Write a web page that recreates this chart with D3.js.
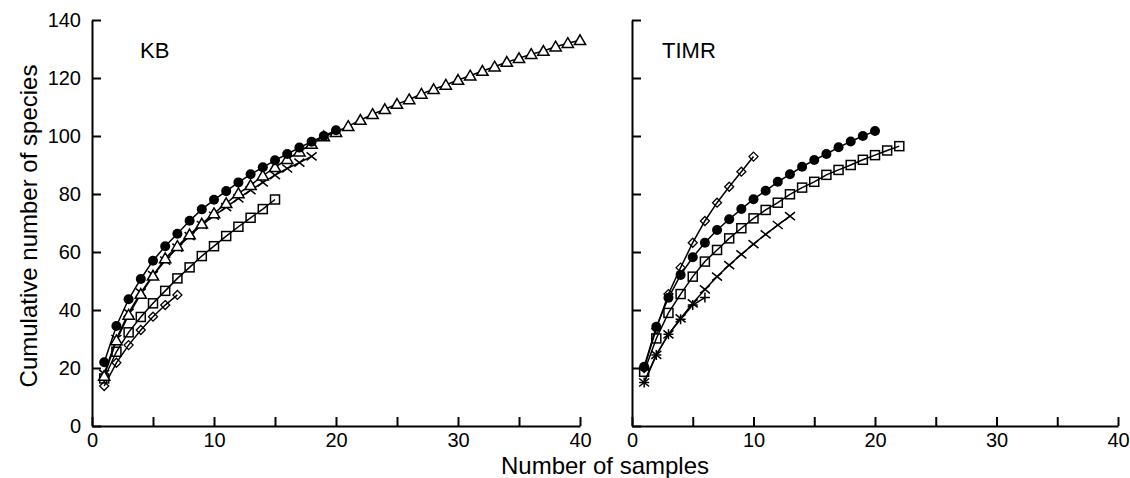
<!DOCTYPE html>
<html>
<head>
<meta charset="utf-8">
<script src="https://d3js.org/d3.v7.min.js"></script>
<style>
body{margin:0;background:#fff;}
text{font-family:"Liberation Sans Narrow","Liberation Sans",Arial,sans-serif;fill:#000;}
.axis path,.axis line{stroke:#000;stroke-width:2;}
.axis text{font-size:20px;}
</style>
</head>
<body>
<svg id="chart" width="1130" height="478"></svg>
<script>
// KB panel
const kbCircle = [22, 34.5, 43.7, 50.7, 57, 62, 66.3, 70.8, 74.7, 78, 81, 84, 86.8, 89.2, 91.6, 93.8, 96, 98, 100, 102];
const kbTriangle = [17.2, 29.5, 38.3, 45.5, 51.8, 57.8, 62, 66, 69.7, 73.3, 76.8, 80.2, 83, 86.3, 89.2, 92, 94.6, 97.2, 99.8, 101.3,
  103.4, 105.5, 107.5, 109.2, 111, 112.6, 114.5, 116.1, 117.6, 119.3, 120.8, 122.4, 123.9, 125.5, 126.8, 128.2, 129.3, 130.8, 132, 133];
const kbCross = [18, 30, 39, 46, 52, 57, 61.5, 65.5, 69.3, 72.5, 75.5, 78.5, 81.3, 84, 86.5, 88.8, 90.8, 93];
const kbSquare = [16.4, 25.6, 32.3, 37.6, 42.3, 46.6, 50.9, 54.7, 58.6, 62, 65.5, 68.7, 71.8, 74.8, 78.1];
const kbDiamond = [13.8, 21.8, 27.9, 33.1, 37.7, 41.7, 45.2];

// TIMR panel
const timrCircle = [20.4, 34.2, 44.2, 52.1, 58.2, 63.2, 67.6, 71.3, 74.8, 78.2, 81.1, 84.2, 86.8, 89.4, 91.7, 93.8, 96.1, 98.1, 100, 101.7];
const timrSquare = [18.7, 30.2, 39, 45.5, 51.5, 56.7, 60.7, 64.7, 68.2, 71.6, 74.5, 77, 79.9, 82.2, 84.2, 86.6, 88.3, 90, 91.8, 93.4, 95, 96.5];
const timrDiamond = [20, 33.5, 45.5, 54.6, 63.2, 70.7, 77, 82.5, 87.7, 92.9];
const timrCross = [15, 24.5, 31.6, 37.1, 42.3, 47.1, 51.5, 55.5, 59.2, 62.7, 66.1, 69.3, 72.4];
const timrPlus = [15, 24.5, 31.6, 36.8, 41.7, 44.3];

const xTicks = [0, 5, 10, 15, 20, 25, 30, 35, 40];
const yTicks = [0, 20, 40, 60, 80, 100, 120, 140];

const panels = [
  {name: "KB", x0: 92, x1: 580, labels: true, series: [
    {v: kbDiamond, m: "diamond"}, {v: kbSquare, m: "square"}, {v: kbCross, m: "cross"},
    {v: kbTriangle, m: "triangle"}, {v: kbCircle, m: "circle"}]},
  {name: "TIMR", x0: 632, x1: 1118, labels: false, series: [
    {v: timrPlus, m: "plus"}, {v: timrCross, m: "cross"}, {v: timrSquare, m: "square"},
    {v: timrCircle, m: "circle"}, {v: timrDiamond, m: "diamond"}]}
];

const svg = d3.select("#chart");
const y = d3.scaleLinear().domain([0, 140]).range([426, 20]);

function marker(g, type, cx, cy) {
  if (type == "circle") {
    g.append("circle").attr("cx", cx).attr("cy", cy).attr("r", 5).attr("fill", "#000");
  } else if (type == "triangle") {
    g.append("path").attr("d", d3.symbol(d3.symbolTriangle, 55)()).attr("transform", "translate(" + cx + "," + (cy + 1) + ")")
      .attr("fill", "#fff").attr("stroke", "#000").attr("stroke-width", 1.5);
  } else if (type == "square") {
    g.append("rect").attr("x", cx - 4.5).attr("y", cy - 4.5).attr("width", 9).attr("height", 9)
      .attr("fill", "none").attr("stroke", "#000").attr("stroke-width", 1.5);
  } else if (type == "diamond") {
    g.append("path").attr("d", "M0,-4.5L4.5,0L0,4.5L-4.5,0Z").attr("transform", "translate(" + cx + "," + cy + ")")
      .attr("fill", "none").attr("stroke", "#000").attr("stroke-width", 1.3);
  } else if (type == "cross") {
    g.append("path").attr("d", "M-5,-4L5,4M-5,4L5,-4").attr("transform", "translate(" + cx + "," + cy + ")")
      .attr("stroke", "#000").attr("stroke-width", 1.5);
  } else if (type == "plus") {
    g.append("path").attr("d", "M0,-5L0,5M-5,0L5,0").attr("transform", "translate(" + cx + "," + cy + ")")
      .attr("stroke", "#000").attr("stroke-width", 1.5);
  }
}

panels.forEach(function (p) {
  const x = d3.scaleLinear().domain([0, 40]).range([p.x0, p.x1]);

  const xAxis = d3.axisBottom(x).tickValues(xTicks).tickSizeInner(-9).tickSizeOuter(0).tickPadding(7)
    .tickFormat(d => d % 10 == 0 ? d : "");
  svg.append("g").attr("class", "axis").attr("transform", "translate(0," + y(0) + ")").call(xAxis);

  const yAxis = d3.axisLeft(y).tickValues(yTicks).tickSizeInner(-9).tickSizeOuter(0).tickPadding(11)
    .tickFormat(p.labels ? (d => d) : "");
  svg.append("g").attr("class", "axis").attr("transform", "translate(" + p.x0 + ",0)").call(yAxis);

  const line = d3.line().x((d, i) => x(i + 1)).y(d => y(d));
  const g = svg.append("g");
  p.series.forEach(function (s) {
    g.append("path").datum(s.v).attr("d", line).attr("fill", "none").attr("stroke", "#000").attr("stroke-width", 1.5);
    s.v.forEach(function (d, i) { marker(g, s.m, x(i + 1), y(d)); });
  });

  svg.append("text").attr("x", p.x0 + (p.name == "KB" ? 48 : 30)).attr("y", 58)
    .style("font-size", "22px").text(p.name);
});

svg.append("text").attr("transform", "translate(37,226) rotate(-90)").attr("text-anchor", "middle")
  .style("font-size", "24px").text("Cumulative number of species");
svg.append("text").attr("x", 605).attr("y", 474).attr("text-anchor", "middle")
  .style("font-size", "24px").text("Number of samples");
</script>
</body>
</html>
